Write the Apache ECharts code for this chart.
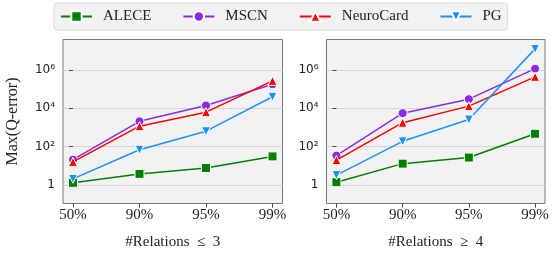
<!DOCTYPE html>
<html>
<head>
<meta charset="utf-8">
<script src="https://cdn.jsdelivr.net/npm/echarts@6/dist/echarts.min.js"></script>
<style>
  html, body { margin: 0; padding: 0; background: #fff; }
  #chart { width: 555px; height: 255px; }
</style>
</head>
<body>
<div id="chart"></div>
<script>
const percentiles = ['50%', '90%', '95%', '99%'];
const yTicks = [1, 1e2, 1e4, 1e6];
const groupNames = ['#Relations  \u2264  3', '#Relations  \u2265  4'];

// #Relations <= 3
const aleceLow = [1.3, 3.8, 7.7, 31];
const mscnLow = [21, 2100, 14000, 180000];
const neuroLow = [16, 1170, 6300, 270000];
const pgLow = [2.1, 69, 640, 40000];

// #Relations >= 4
const aleceHigh = [1.4, 13, 27, 470];
const mscnHigh = [34, 5600, 30000, 1170000];
const neuroHigh = [20, 1780, 13000, 440000];
const pgHigh = [3.3, 190, 2600, 12600000];

const methods = ['ALECE', 'MSCN', 'NeuroCard', 'PG'];
const lowData = [aleceLow, mscnLow, neuroLow, pgLow];
const highData = [aleceHigh, mscnHigh, neuroHigh, pgHigh];

const colors = ['#008000', '#8a2be2', '#ff0000', '#1e90ff'];
const symbols = ['rect', 'circle', 'triangle', 'triangle'];
const rotates = [0, 0, 0, 180];
const sizes = [9, 9, 9, 9];

const serif = 'Liberation Serif, Times New Roman, serif';
const sup = { 2: '\u00b2', 4: '\u2074', 6: '\u2076' };

function yLabel(v) {
  const e = Math.round(Math.log10(v));
  return e === 0 ? '1' : '10' + sup[e];
}

function makeXAxis(gi) {
  return {
    type: 'value', gridIndex: gi, min: -0.15, max: 3.15,
    name: groupNames[gi], nameLocation: 'middle', nameGap: 31,
    nameTextStyle: { fontFamily: serif, fontSize: 15, color: '#222' },
    axisLine: { show: false },
    axisTick: { show: true, length: 4, customValues: [0, 1, 2, 3], lineStyle: { color: '#444' } },
    axisLabel: {
      customValues: [0, 1, 2, 3], margin: 4,
      formatter: v => percentiles[v],
      fontFamily: serif, fontSize: 15, color: '#222'
    },
    splitLine: { show: false }
  };
}

function makeYAxis(gi) {
  const ax = {
    type: 'log', logBase: 10, gridIndex: gi,
    min: Math.pow(10, -0.965), max: Math.pow(10, 7.59),
    axisLine: { show: false },
    axisTick: { show: true, length: 4, customValues: yTicks, lineStyle: { color: '#444' } },
    axisLabel: {
      customValues: yTicks, margin: 8, formatter: yLabel,
      fontFamily: 'DejaVu Sans', fontSize: 12, color: '#222'
    },
    splitLine: { show: true, lineStyle: { color: '#d6d6d6', width: 1 } },
    minorTick: { show: false }
  };
  if (gi === 0) {
    ax.name = 'Max(Q-error)';
    ax.nameLocation = 'middle';
    ax.nameGap = 42;
    ax.nameTextStyle = { fontFamily: serif, fontSize: 16, color: '#222' };
  }
  return ax;
}

const series = [];
[lowData, highData].forEach((group, gi) => {
  group.forEach((vals, i) => {
    series.push({
      name: methods[i], type: 'line',
      xAxisIndex: gi, yAxisIndex: gi,
      data: vals.map((v, k) => [k, v]),
      symbol: symbols[i], symbolSize: sizes[i], symbolRotate: rotates[i],
      showAllSymbol: true,
      lineStyle: { color: colors[i], width: 1.5 },
      itemStyle: { color: colors[i], borderColor: '#fff', borderWidth: 1 },
      z: 2 + i,
      animation: false
    });
  });
});

const chart = echarts.init(document.getElementById('chart'), null, { renderer: 'canvas' });
chart.setOption({
  animation: false,
  legend: {
    data: methods,
    left: 54, top: 3,
    padding: [6, 6, 6, 6],
    itemWidth: 31, itemHeight: 13, itemGap: 31,
    backgroundColor: '#f2f2f2',
    borderColor: '#d8d8d8', borderWidth: 1, borderRadius: 3,
    textStyle: { fontFamily: serif, fontSize: 15, color: '#222', padding: [0, 0, 0, 6] }
  },
  grid: [
    { left: 63, top: 39.5, width: 219.5, height: 164, show: true,
      backgroundColor: '#f2f2f2', borderColor: '#777', borderWidth: 1 },
    { left: 326.5, top: 39.5, width: 218.5, height: 164, show: true,
      backgroundColor: '#f2f2f2', borderColor: '#777', borderWidth: 1 }
  ],
  xAxis: [makeXAxis(0), makeXAxis(1)],
  yAxis: [makeYAxis(0), makeYAxis(1)],
  series: series
});
window.addEventListener('resize', () => chart.resize());
</script>
</body>
</html>
